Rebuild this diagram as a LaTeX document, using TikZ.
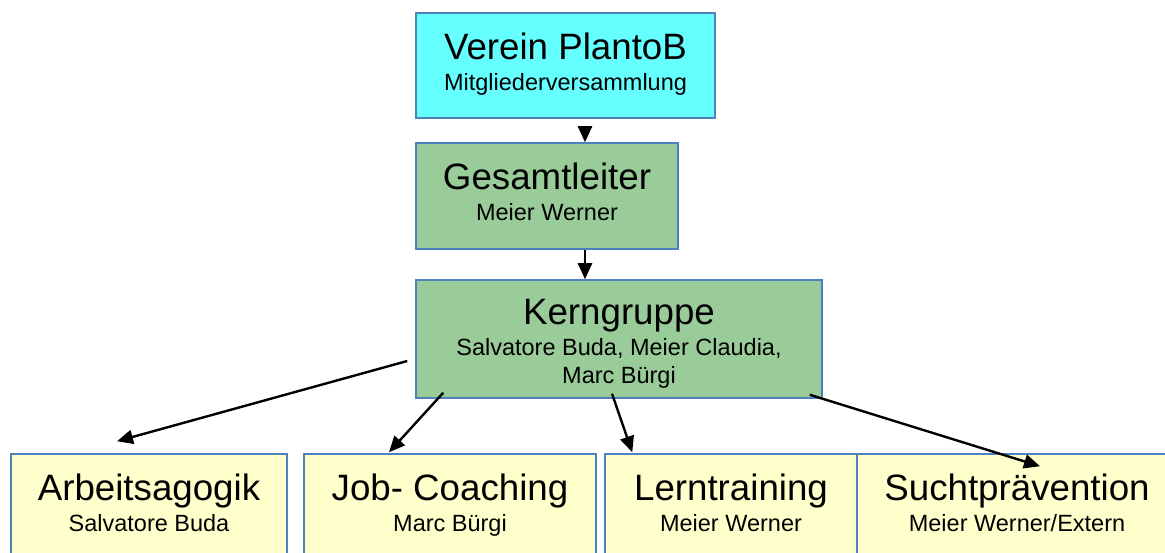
\documentclass[tikz,border=0pt]{standalone}
\usepackage{fontspec}
\setmainfont{Liberation Sans}
\usepackage{tikz}
\usetikzlibrary{
    arrows.meta,
    calc,
    positioning
}
\definecolor{vereincyan}{HTML}{66FFFF}
\definecolor{leitgreen}{HTML}{99CC99}
\definecolor{unityellow}{HTML}{FFFFCC}
\definecolor{frameblue}{HTML}{4F81BD}
\newcommand{\boxtitle}{\fontsize{36.7}{44}\selectfont}
\newcommand{\boxname}{\fontsize{23.5}{28}\selectfont}

\begin{document}
\begin{tikzpicture}[x=1pt, y=-1pt,
    orgbox/.style={draw=frameblue, line width=1.5pt, inner sep=0pt, align=center, font=\boxname},
    vereinbox/.style={orgbox, fill=vereincyan},
    leitbox/.style={orgbox, fill=leitgreen},
    unitbox/.style={orgbox, fill=unityellow, minimum height=106pt},
    orgarrow/.style={-{Triangle[length=16pt, width=14pt]}, line width=2.4pt}]
                    \useasboundingbox (0,0) rectangle (1165,553);
                    \clip (0,0) rectangle (1165,553);
                    \coordinate (spine) at (585, 0);

                    \node[vereinbox, minimum width=299pt, minimum height=105pt] (verein) at (565.5, 65.5) {{\boxtitle Verein PlantoB}\\[3pt]Mitgliederversammlung\strut};
                    \node[leitbox, minimum width=262pt, minimum height=106pt] (gesamt) at (547, 196) {{\boxtitle Gesamtleiter}\\[3pt]Meier Werner\strut};
                    \node[leitbox, minimum width=406pt, minimum height=118pt] (kern) at (619, 339) {{\boxtitle\rule{0pt}{38pt}Kerngruppe}\\[3pt]Salvatore Buda, Meier Claudia,\\Marc Bürgi\strut};
                    \node[unitbox, minimum width=276pt] (arbeit) at (149, 507) {{\boxtitle Arbeitsagogik}\\[3pt]Salvatore Buda\strut};
                    \node[unitbox, minimum width=292pt] (job) at (450, 507) {{\boxtitle Job- Coaching}\\[3pt]Marc Bürgi\strut};
                    \node[unitbox, minimum width=252pt] (lern) at (731, 507) {{\boxtitle Lerntraining}\\[3pt]Meier Werner\strut};
                    \node[unitbox, minimum width=320pt] (sucht) at (1017, 507) {{\boxtitle Suchtprävention}\\[3pt]Meier Werner/Extern\strut};

                    \draw
                    ($(verein.south -| spine)+(0,7)$) edge[orgarrow] (gesamt.north -| spine)
                    (gesamt.south -| spine) edge[orgarrow] (kern.north -| spine)
                    ($(kern.west)+(-8,22)$) edge[orgarrow] ($(arbeit.north)+(-32,-12)$)
                    ($(kern.south west)+(28,-6)$) edge[orgarrow] ($(job.north)+(-61,-1)$)
                    ($(kern.south)+(-7,-5)$) edge[orgarrow] ($(lern.north west)+(28,-1)$)
                    ($(kern.south east)+(-13,-4)$) edge[orgarrow] ($(sucht.north)+(23,13)$);
                \end{tikzpicture}
\end{document}
